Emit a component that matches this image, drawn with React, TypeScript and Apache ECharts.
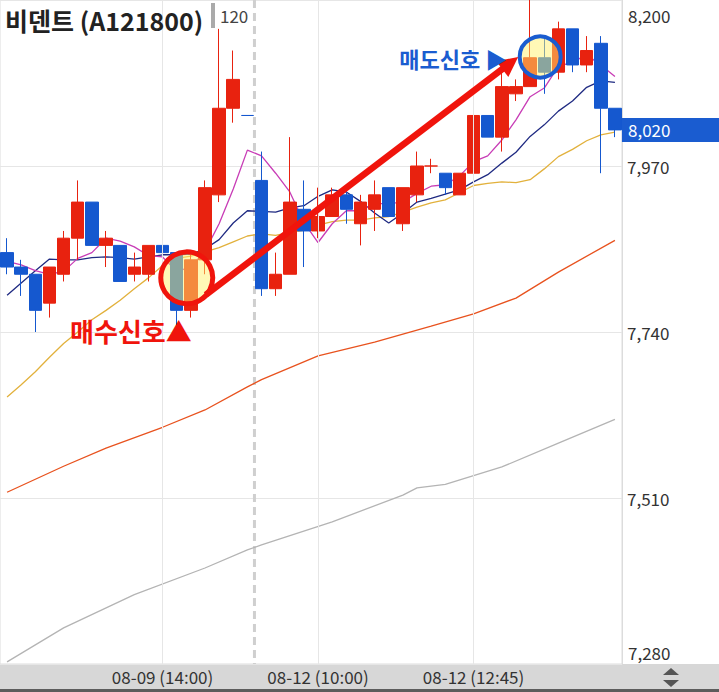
import React, { useEffect, useRef } from 'react';
import * as echarts from 'echarts';

// ---- data ----
const day1Times = ['11:15','11:30','11:45','12:00','12:15','12:30','12:45','13:00','13:15','13:30','13:45','14:00','14:15','14:30','14:45','15:00','15:15','15:30'];
const day2Times = ['09:00','09:15','09:30','09:45','10:00','10:15','10:30','10:45','11:00','11:15','11:30','11:45','12:00','12:15','12:30','12:45','13:00','13:15','13:30','13:45','14:00','14:15','14:30','14:45','15:00','15:15'];
const categories = [
  ...day1Times.map((t) => `08-09 (${t})`),
  ...day2Times.map((t) => `08-12 (${t})`),
];

const opens = [7850,7830,7820,7780,7820,7870,7920,7860,7860,7820,7820,7860,7850,7770,7840,7930,8050,8040,7950,7800,7820,7910,7880,7900,7930,7890,7910,7940,7890,7930,7970,7960,7930,7960,8040,8010,8070,8080,8120,8100,8160,8110,8140,8050];
const closes = [7830,7820,7770,7830,7870,7920,7860,7870,7810,7830,7860,7850,7770,7840,7940,8050,8090,8040,7800,7820,7920,7880,7900,7930,7910,7920,7930,7900,7940,7970,7970,7940,7960,8040,8010,8080,8080,8120,8100,8160,8110,8130,8050,8020];
const lows = [7820,7790,7740,7760,7810,7840,7860,7830,7810,7810,7810,7840,7740,7760,7820,7920,8030,8040,7790,7790,7820,7830,7870,7900,7890,7860,7880,7900,7880,7920,7960,7930,7930,7960,8010,7990,8060,8080,8070,8090,8100,8100,7960,8010];
const highs = [7870,7840,7820,7830,7880,7950,7920,7880,7860,7850,7860,7870,7850,7850,7950,8160,8130,8040,7990,7850,8010,7950,7940,7940,7940,7930,7950,7940,7940,7990,7980,7960,7960,8080,8040,8100,8090,8220,8150,8170,8160,8150,8150,8050];

const ma5 = [7838,7833,7825,7820,7824,7842,7850,7870,7866,7858,7846,7844,7824,7830,7852,7890,7938,7992,7984,7960,7934,7892,7864,7890,7908,7908,7918,7918,7920,7932,7942,7944,7956,7976,7984,8006,8034,8066,8078,8108,8114,8124,8110,8094];
const ma10 = [7791,7808,7825,7841,7840,7840,7843,7844,7843,7841,7844,7847,7847,7848,7855,7868,7891,7908,7907,7906,7912,7915,7928,7937,7934,7921,7905,7891,7905,7920,7925,7931,7937,7948,7958,7974,7989,8011,8027,8046,8060,8079,8088,8086];
const ma20 = [7650,7667,7685,7705,7724,7740,7757,7770,7784,7800,7815,7832,7842,7845,7851,7857,7865,7873,7876,7874,7878,7881,7888,7893,7895,7895,7898,7900,7906,7913,7919,7923,7933,7943,7946,7948,7947,7951,7966,7983,7993,8005,8013,8017];
const ma60Points = [[0,7518],[4,7554],[7,7579],[11,7608],[14,7632],[17,7664],[18,7674],[22,7707],[26,7726],[30,7748],[33,7765],[36,7787],[39,7823],[43,7867]];
const ma120Points = [[0,7283],[4,7330],[9,7376],[14,7413],[17,7438],[18,7445],[23,7477],[28,7514],[29,7524],[31,7529],[35,7553],[39,7586],[43,7619]];

const yMin = 7280;
const yMax = 8200;
const yStep = 230;
const labelIndices = [11, 22, 33];
const lastDay1Index = 17;
const buySignal = { from: 12, to: 13, price: 7815 };
const sellSignal = { from: 37, to: 38, price: 8121 };
const title = '비덴트 (A121800)';

const RED = '#e8220f';
const BLUE = '#1558cf';
const FONT = '"Noto Sans CJK KR", "Noto Sans", sans-serif';
const fmt = (v: number) => v.toLocaleString('en-US');

export default function App() {
  const ref = useRef<HTMLDivElement>(null);
  useEffect(() => {
    document.body.style.margin = '0';
    const chart = echarts.init(ref.current!, undefined, { renderer: 'svg' });
    const candleData = opens.map((o, i) => [o, closes[i], lows[i], highs[i]]);
    const lineStyleFor = (color: string, width = 1.3) => ({
      type: 'line', showSymbol: false, symbol: 'none', silent: true,
      lineStyle: { color, width }, z: 3,
    });
    chart.setOption({
      animation: false,
      backgroundColor: '#ffffff',
      grid: { left: -1, right: 97, top: 0, bottom: 28, show: true, borderColor: '#dcdcdc', borderWidth: 1 },
      xAxis: {
        type: 'category', data: categories, boundaryGap: true,
        axisLine: { show: false }, axisTick: { show: false },
        axisLabel: {
          interval: (i: number) => labelIndices.includes(i),
          color: '#333', fontSize: 17, margin: 4, fontFamily: FONT,
        },
        splitLine: { show: false },
      },
      yAxis: {
        type: 'value', position: 'right', min: yMin, max: yMax, interval: yStep,
        axisLine: { show: true, lineStyle: { color: '#dcdcdc' } }, axisTick: { show: false },
        axisLabel: {
          color: '#333', fontSize: 17, margin: 5, fontFamily: FONT,
          formatter: (v: number) => fmt(v), showMinLabel: false, showMaxLabel: false,
        },
        splitLine: { show: true, lineStyle: { color: '#e6e6e6' } },
      },
      series: [
        {
          type: 'line', data: [], silent: true,
          markLine: {
            silent: true, symbol: 'none', label: { show: false },
            lineStyle: { color: '#e6e6e6', type: 'solid', width: 1 },
            data: labelIndices.map((i) => ({ xAxis: i })),
          },
        },
        { ...lineStyleFor('#b4b4b4'), data: ma120Points },
        { ...lineStyleFor('#e8521e'), data: ma60Points },
        { ...lineStyleFor('#e2b13c'), data: ma20 },
        { ...lineStyleFor('#1f2a82'), data: ma10 },
        { ...lineStyleFor('#c83cb6'), data: ma5 },
        {
          type: 'candlestick', data: candleData, barWidth: 13, z: 4,
          itemStyle: { color: RED, color0: BLUE, borderColor: RED, borderColor0: BLUE, borderWidth: 1 },
        },
      ],
    });

    const px = (i: number, v: number) => chart.convertToPixel({ gridIndex: 0 }, [i, v]) as number[];
    const midX = (a: number, b: number) => (px(a, yMin)[0] + px(b, yMin)[0]) / 2;
    const yTop = px(0, yMax)[1];
    const yBot = px(0, yMin)[1];
    const breakX = midX(lastDay1Index, lastDay1Index + 1);

    const rc = { x: midX(buySignal.from, buySignal.to) + 3, y: px(0, buySignal.price)[1] };
    const bc = { x: midX(sellSignal.from, sellSignal.to) + 3, y: px(0, sellSignal.price)[1] };
    const S = [rc.x + 19, rc.y + 17];
    const T = [bc.x - 22, bc.y];
    const dx = T[0] - S[0];
    const dy = T[1] - S[1];
    const len = Math.hypot(dx, dy);
    const ux = dx / len, uy = dy / len;
    const headLen = 20, headHalf = 10;
    const B = [T[0] - ux * headLen, T[1] - uy * headLen];
    const lastY = px(0, closes[closes.length - 1])[1];
    const axisX = px(categories.length - 1, yMin)[0] + 7;

    chart.setOption({
      graphic: [
        { type: 'rect', z: -10, shape: { x: 0, y: yBot, width: 719, height: 692 - yBot }, style: { fill: '#d7d7d7' } },
        { type: 'rect', z: -9, shape: { x: 0, y: 689, width: 719, height: 3 }, style: { fill: '#5c5c5c' } },
        { type: 'polygon', z: 10, shape: { points: [[671, 668], [663, 675], [679, 675]] }, style: { fill: '#555' } },
        { type: 'polygon', z: 10, shape: { points: [[663, 680], [679, 680], [671, 687]] }, style: { fill: '#555' } },
        { type: 'line', z: 1, shape: { x1: breakX, y1: yTop, x2: breakX, y2: yBot }, style: { stroke: '#cfcfcf', lineWidth: 3, lineDash: [8, 5] } },
        { type: 'text', z: 10, x: 628, y: yTop + 15, style: { text: fmt(yMax), fill: '#333', font: `17px ${FONT}`, verticalAlign: 'middle' } },
        { type: 'text', z: 10, x: 628, y: yBot - 12, style: { text: fmt(yMin), fill: '#333', font: `17px ${FONT}`, verticalAlign: 'middle' } },
        { type: 'rect', z: 10, shape: { x: axisX, y: lastY - 12, width: 719 - axisX, height: 24 }, style: { fill: '#1a5cd0' } },
        { type: 'text', z: 11, x: 628, y: lastY, style: { text: fmt(closes[closes.length - 1]), fill: '#fff', font: `17px ${FONT}`, verticalAlign: 'middle' } },
        { type: 'text', z: 10, x: 5, y: 20, style: { text: title, fill: '#222', font: `bold 25px ${FONT}`, verticalAlign: 'middle' } },
        { type: 'rect', z: 10, shape: { x: 211, y: 3, width: 4, height: 25 }, style: { fill: '#aaaaaa' } },
        { type: 'text', z: 10, x: 220, y: 15, style: { text: '120', fill: '#444', font: `17px ${FONT}`, verticalAlign: 'middle' } },
        // buy signal circle
        { type: 'circle', z: 20, shape: { cx: rc.x, cy: rc.y, r: 26 }, style: { fill: 'rgba(255,242,110,0.5)', stroke: '#f0140c', lineWidth: 5 } },
        // sell signal circle
        { type: 'circle', z: 20, shape: { cx: bc.x, cy: bc.y, r: 20.5 }, style: { fill: 'rgba(255,242,110,0.5)', stroke: '#1a5cd0', lineWidth: 4 } },
        // arrow
        { type: 'line', z: 21, shape: { x1: S[0], y1: S[1], x2: B[0] + ux * 2, y2: B[1] + uy * 2 }, style: { stroke: '#f0140c', lineWidth: 6.5 } },
        { type: 'polygon', z: 21, shape: { points: [T, [B[0] - uy * headHalf, B[1] + ux * headHalf], [B[0] + uy * headHalf, B[1] - ux * headHalf]] }, style: { fill: '#f0140c' } },
        // labels
        { type: 'text', z: 22, x: rc.x + 5, y: rc.y + 53, style: { text: '매수신호▲', fill: '#f0140c', font: `bold 26px ${FONT}`, align: 'right', verticalAlign: 'middle' } },
        { type: 'text', z: 22, x: bc.x - 33, y: bc.y + 1, style: { text: '매도신호 ▶', fill: '#1a5cd0', font: `bold 22px ${FONT}`, align: 'right', verticalAlign: 'middle' } },
      ],
    });
    return () => chart.dispose();
  }, []);
  return <div ref={ref} style={{ width: 719, height: 692 }} />;
}
